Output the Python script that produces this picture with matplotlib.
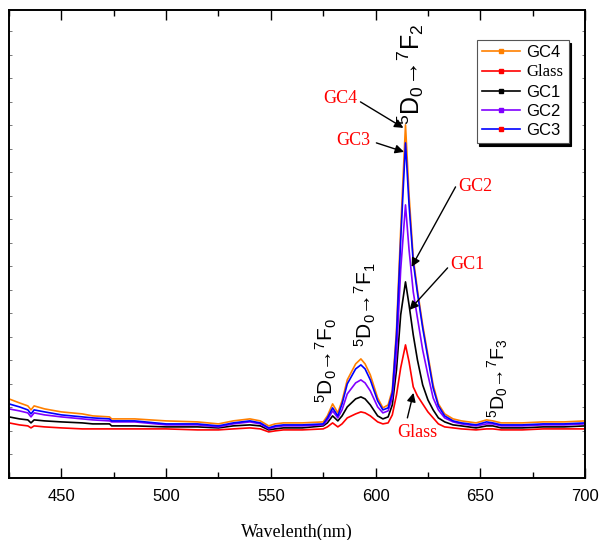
import matplotlib
matplotlib.use("Agg")
import matplotlib.pyplot as plt
from matplotlib.lines import Line2D
from matplotlib.ticker import MultipleLocator

# wavelength nodes (nm)
wavelength = [425, 430, 434, 435.5, 437, 442, 450, 460, 465, 473,
              474, 485, 500, 515, 525, 532, 540, 545, 549, 552,
              556, 565, 575, 577, 579.5, 582, 584, 586.5, 590.5, 593,
              595, 597.5, 601, 603.5, 606, 608, 610, 612, 614.3, 616,
              618, 620, 622.5, 625, 627.5, 630, 633, 637, 641, 648,
              653, 656, 660, 670, 680, 690, 700]

# intensities (a.u.)
gc4 = [79, 75, 72, 68, 72, 69, 66, 64, 62, 61,
       59, 59, 57, 56, 54, 57, 59, 57, 52, 54,
       55, 55, 56, 62, 74, 65, 77, 98, 114, 119,
       114, 103, 80, 70, 73, 88, 148, 248, 353, 283,
       220, 188, 153, 123, 93, 74, 64, 59, 57, 55,
       58, 57, 55, 55, 56, 56, 57]
glass = [55, 53, 52, 50, 52, 51, 50, 49, 49, 49,
         49, 49, 49, 48, 48, 49, 50, 49, 46, 47,
         48, 48, 49, 51, 55, 51, 54, 60, 64, 66,
         65, 62, 56, 54, 55, 63, 83, 110, 133, 116,
         91, 82, 74, 66, 60, 54, 51, 50, 49, 48,
         49, 49, 48, 48, 49, 49, 49]
gc1 = [61, 59, 58, 55, 58, 57, 56, 55, 54, 54,
       52, 52, 51, 51, 50, 52, 53, 52, 48, 49,
       50, 50, 52, 55, 62, 57, 62, 71, 79, 81,
       79, 73, 62, 59, 61, 73, 108, 163, 196, 173,
       143, 118, 93, 78, 68, 60, 56, 53, 52, 50,
       52, 52, 50, 50, 51, 51, 52]
gc2 = [69, 67, 65, 61, 65, 63, 61, 59, 58, 57,
       56, 56, 53, 53, 51, 54, 56, 54, 49, 51,
       52, 52, 53, 58, 67, 60, 68, 84, 95, 98,
       95, 87, 71, 65, 67, 80, 123, 208, 273, 228,
       186, 160, 128, 103, 80, 68, 60, 56, 54, 52,
       54, 54, 52, 52, 53, 53, 54]
gc3 = [74, 71, 68, 64, 68, 66, 63, 61, 60, 59,
       57, 57, 54, 54, 52, 55, 57, 55, 50, 52,
       53, 53, 54, 60, 70, 62, 74, 94, 109, 113,
       109, 98, 77, 68, 70, 85, 143, 238, 335, 273,
       216, 185, 150, 120, 90, 72, 62, 57, 55, 53,
       56, 55, 53, 53, 54, 54, 55]

names = ["GC4", "Glass", "GC1", "GC2", "GC3"]
series = [gc4, glass, gc1, gc2, gc3]
colors = ["#ff8000", "#ff0000", "#000000", "#8000ff", "#0000ff"]
marker_colors = ["#ff8000", "#ff0000", "#000000", "#8000ff", "#ff0000"]

SANS = "Liberation Sans"
SERIF = "Liberation Serif"
plt.rcParams["font.family"] = [SANS, "DejaVu Sans"]
plt.rcParams["mathtext.default"] = "regular"

fig = plt.figure(figsize=(6, 5.4), dpi=100)
ax = fig.add_axes([0.015, 0.115, 0.96, 0.8667])

for name, ys, c in zip(names, series, colors):
    ax.plot(wavelength, ys, color=c, lw=1.2, label=name)

ax.set_xlim(425, 700)
ax.set_ylim(0, 468)
ax.xaxis.set_major_locator(MultipleLocator(50))
ax.xaxis.set_minor_locator(MultipleLocator(25))
ax.yaxis.set_major_locator(MultipleLocator(47))
ax.yaxis.set_minor_locator(MultipleLocator(23.5))
ax.tick_params(which="both", direction="in", top=True, right=True, width=1)
ax.tick_params(which="major", axis="x", length=7, labelsize=12, pad=8)
ax.tick_params(which="minor", axis="x", length=4)
ax.tick_params(axis="y", which="both", length=2, labelleft=False,
               width=0.5, color="#444444")
for s in ax.spines.values():
    s.set_linewidth(1.4)

ax.set_xlabel("Wavelenth(nm)", fontfamily=SERIF, fontsize=13, labelpad=14)

# transition labels
ax.text(616.7, 404, r"$^5$D$_0$→$^7$F$_2$", rotation=90,
        ha="center", va="center", fontsize=18)
ax.text(576.3, 117, r"$^5$D$_0$→$^7$F$_0$", rotation=90,
        ha="center", va="center", fontsize=15)
ax.text(595.0, 173, r"$^5$D$_0$→$^7$F$_1$", rotation=90,
        ha="center", va="center", fontsize=15)
ax.text(658.3, 100, r"$^5$D$_0$→$^7$F$_3$", rotation=90,
        ha="center", va="center", fontsize=14)

# sample annotations (text position, arrow tail, arrow head)
notes = [
    ("GC4", (583.2, 379), (592.8, 376), (613.3, 350)),
    ("GC3", (589.4, 337), (600.4, 335), (613.6, 326)),
    ("GC2", (647.7, 291), (638.2, 291), (617.2, 211)),
    ("GC1", (643.9, 213), (634.4, 210), (616.2, 168)),
    ("Glass", (620.0, 45), (615.2, 60), (618.1, 85)),
]
for label, tpos, tail, head in notes:
    ax.text(tpos[0], tpos[1], label, color="red", fontfamily=SERIF,
            fontsize=13, ha="center", va="center")
    ax.annotate("", xy=head, xytext=tail,
                arrowprops=dict(arrowstyle="-|>", color="black", lw=1,
                                mutation_scale=13, shrinkA=0, shrinkB=0))

handles = [Line2D([], [], color=c, lw=1.2, marker="s", markersize=3.5,
                  markerfacecolor=m, markeredgecolor=m)
           for c, m in zip(colors, marker_colors)]
leg = ax.legend(handles, names, loc="upper right",
                bbox_to_anchor=(0.986, 0.953), fontsize=12, numpoints=1,
                handlelength=2.3, labelspacing=0.25, handletextpad=0.4,
                borderpad=0.3, fancybox=False, framealpha=1,
                edgecolor="#555555",
                shadow={"color": "black", "alpha": 1})
leg.get_frame().set_linewidth(0.8)
for t in leg.get_texts():
    if t.get_text() == "Glass":
        t.set_fontfamily(SERIF)

fig.savefig("out.png", dpi=100)
